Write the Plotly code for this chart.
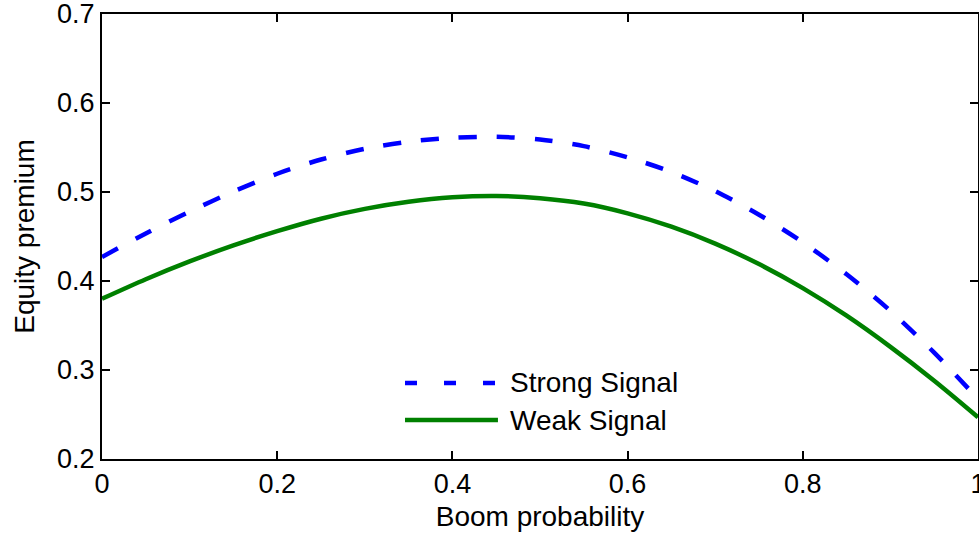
import plotly.graph_objects as go

# Boom probability grid and equity premium for the two signal strengths
boom_prob = [0.0, 0.05, 0.1, 0.15, 0.2, 0.25, 0.3, 0.35, 0.4, 0.45, 0.5,
             0.55, 0.6, 0.65, 0.7, 0.75, 0.8, 0.85, 0.9, 0.95, 1.0]
strong_signal = [0.427, 0.4535, 0.478, 0.5005, 0.5205, 0.5365, 0.5485, 0.5565, 0.561, 0.562, 0.559,
                 0.5515, 0.539, 0.5225, 0.501, 0.4745, 0.4435, 0.4075, 0.3665, 0.3195, 0.2675]
weak_signal = [0.380, 0.402, 0.422, 0.440, 0.456, 0.470, 0.481, 0.489, 0.494, 0.4955, 0.493,
               0.487, 0.476, 0.461, 0.442, 0.419, 0.392, 0.361, 0.326, 0.288, 0.247]

x_ticks = [0, 0.2, 0.4, 0.6, 0.8, 1]
x_tick_text = ["0", "0.2", "0.4", "0.6", "0.8", "1"]
y_ticks = [0.2, 0.3, 0.4, 0.5, 0.6, 0.7]
y_tick_text = ["0.2", "0.3", "0.4", "0.5", "0.6", "0.7"]

series_names = ["Strong Signal", "Weak Signal"]
BLUE = "#0000FF"
GREEN = "#008000"
FONT = "Liberation Sans, Arial, sans-serif"

fig = go.Figure()
fig.add_trace(go.Scatter(
    x=boom_prob, y=strong_signal, mode="lines", name=series_names[0],
    line=dict(color=BLUE, width=4.5, dash="18px,20px", shape="spline", smoothing=0.8),
    showlegend=False,
))
fig.add_trace(go.Scatter(
    x=boom_prob, y=weak_signal, mode="lines", name=series_names[1],
    line=dict(color=GREEN, width=4.5, shape="spline", smoothing=0.8),
    showlegend=False,
))

# Key inside the axes with long sample lines
key_rows = [(0.1708, BLUE, "12px,27px"), (0.0876, GREEN, "solid")]
for (ky, col, dsh), label in zip(key_rows, series_names):
    fig.add_shape(type="line", xref="paper", yref="paper",
                  x0=0.3459, x1=0.452, y0=ky, y1=ky,
                  line=dict(color=col, width=4.5, dash=dsh))
    fig.add_annotation(xref="paper", yref="paper", x=0.4635, y=ky,
                       text=label, showarrow=False, xanchor="left", yanchor="middle",
                       font=dict(family=FONT, size=28, color="black"))

axis_common = dict(
    showline=True, linecolor="black", linewidth=2, mirror="ticks",
    ticks="inside", ticklen=8, tickwidth=1.5, tickcolor="black",
    showgrid=False, zeroline=False, ticklabeloverflow="allow",
    automargin=False,
    tickfont=dict(family=FONT, size=27, color="black"),
)

fig.update_xaxes(range=[0, 1], tickvals=x_ticks, ticktext=x_tick_text,
                 title=dict(text="Boom probability", standoff=8,
                            font=dict(family=FONT, size=28, color="black")),
                 **axis_common)
fig.update_yaxes(range=[0.2, 0.7], tickvals=y_ticks, ticktext=y_tick_text,
                 title=dict(text="Equity premium", standoff=14,
                            font=dict(family=FONT, size=28, color="black")),
                 **axis_common)

fig.update_layout(
    width=979, height=539,
    margin=dict(l=102, r=1, t=14, b=80, autoexpand=False),
    paper_bgcolor="white", plot_bgcolor="white",
    showlegend=False,
)

fig.write_html("out.html")
